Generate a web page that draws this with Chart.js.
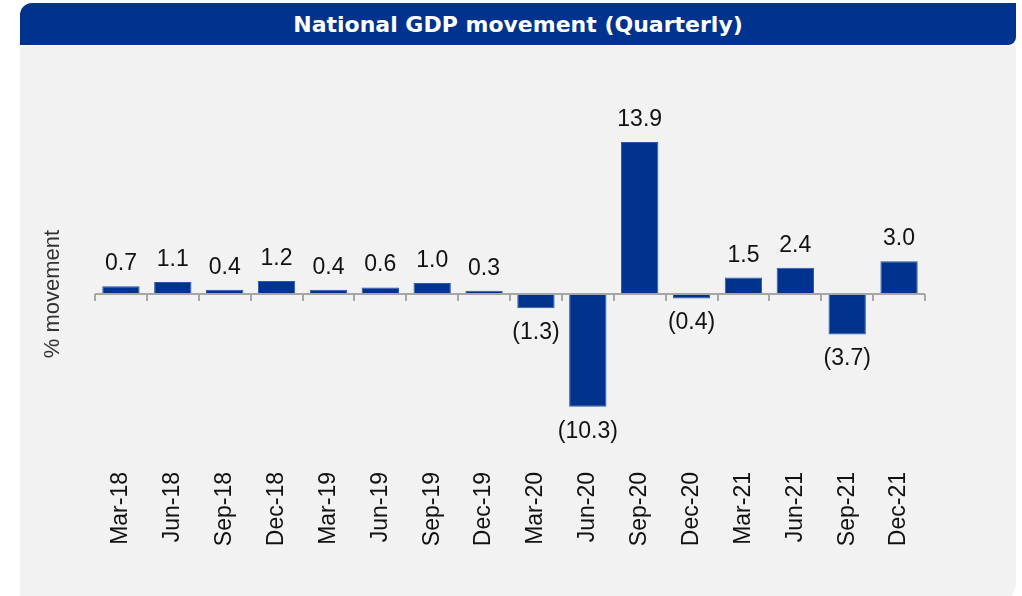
<!DOCTYPE html>
<html>
<head>
<meta charset="utf-8">
<script src="https://cdn.jsdelivr.net/npm/chart.js@4"></script>
<style>
  body { margin: 0; background: #fff; width: 1022px; height: 596px; overflow: hidden; position: relative; }
  #banner {
    position: absolute; left: 20px; top: 3px; width: 996px; height: 42px;
    background: #00338d; border-radius: 12px 0 8px 0;
    color: #fff; font: bold 22px "DejaVu Sans", sans-serif;
    text-align: center; line-height: 43px;
  }
  #panel {
    position: absolute; left: 20px; top: 46px; width: 996px; height: 560px;
    background: #f2f2f2; border-radius: 0 0 24px 0;
  }
  #wrap { position: absolute; left: 20px; top: 46px; width: 996px; height: 550px; }
</style>
</head>
<body>
<div id="banner">National GDP movement (Quarterly)</div>
<div id="panel"></div>
<div id="wrap"><canvas id="grafico"></canvas></div>
<script>
var quarters = ['Mar-18', 'Jun-18', 'Sep-18', 'Dec-18', 'Mar-19', 'Jun-19', 'Sep-19', 'Dec-19',
                'Mar-20', 'Jun-20', 'Sep-20', 'Dec-20', 'Mar-21', 'Jun-21', 'Sep-21', 'Dec-21'];
var gdpMovement = [0.7, 1.1, 0.4, 1.2, 0.4, 0.6, 1.0, 0.3, -1.3, -10.3, 13.9, -0.4, 1.5, 2.4, -3.7, 3.0];

var labelFont = '23px "Liberation Sans", Arial, sans-serif';

// zero axis with little tick marks between the quarters, plus the value labels
var zeroAxis = {
    id: 'zeroAxis',
    afterDatasetsDraw: function (chart) {
        var c = chart.ctx, area = chart.chartArea;
        var ys = chart.scales.y;
        var y0 = ys.getPixelForValue(0);
        var step = (area.right - area.left) / quarters.length;
        c.save();
        c.strokeStyle = '#a6a6a6';
        c.lineWidth = 2;
        c.beginPath();
        c.moveTo(area.left, y0);
        c.lineTo(area.right, y0);
        for (var i = 0; i <= quarters.length; i++) {
            var bx = Math.round(area.left + i * step);
            c.moveTo(bx, y0);
            c.lineTo(bx, y0 + 7);
        }
        c.stroke();

        c.fillStyle = '#111';
        c.font = labelFont;
        c.textAlign = 'center';
        c.textBaseline = 'alphabetic';
        chart.getDatasetMeta(0).data.forEach(function (bar, i) {
            var v = gdpMovement[i];
            if (v >= 0) {
                c.fillText(v.toFixed(1), bar.x, bar.y - 16);
            } else {
                c.fillText('(' + Math.abs(v).toFixed(1) + ')', bar.x, bar.y + 31);
            }
        });
        c.restore();
    }
};

var ctx = document.querySelector('#grafico').getContext('2d');
var barChart = new Chart(ctx, {
    type: 'bar',
    data: {
        labels: quarters,
        datasets: [{
            label: 'GDP movement',
            data: gdpMovement,
            backgroundColor: '#00338d',
            borderColor: '#2b58a8',
            borderWidth: 1,
            categoryPercentage: 1,
            barPercentage: 0.72
        }]
    },
    options: {
        responsive: true,
        maintainAspectRatio: false,
        animation: false,
        layout: { padding: { left: 20, right: 91, top: 73, bottom: 47 } },
        plugins: {
            legend: { display: false },
            tooltip: { enabled: false }
        },
        scales: {
            x: {
                grid: { display: false, drawTicks: false },
                border: { display: false },
                ticks: {
                    minRotation: 90,
                    maxRotation: 90,
                    padding: 3,
                    color: '#111',
                    font: { family: '"Liberation Sans", Arial, sans-serif', size: 23 }
                },
                afterFit: function (s) { s.height = 80; }
            },
            y: {
                min: -16,
                max: 16,
                grid: { display: false, drawTicks: false },
                border: { display: false },
                ticks: { display: false },
                title: {
                    display: true,
                    text: '% movement',
                    color: '#333',
                    padding: 0,
                    font: { family: '"Liberation Sans", Arial, sans-serif', size: 22 }
                },
                afterFit: function (s) { s.width = 55; }
            }
        }
    },
    plugins: [zeroAxis]
});
</script>
</body>
</html>
